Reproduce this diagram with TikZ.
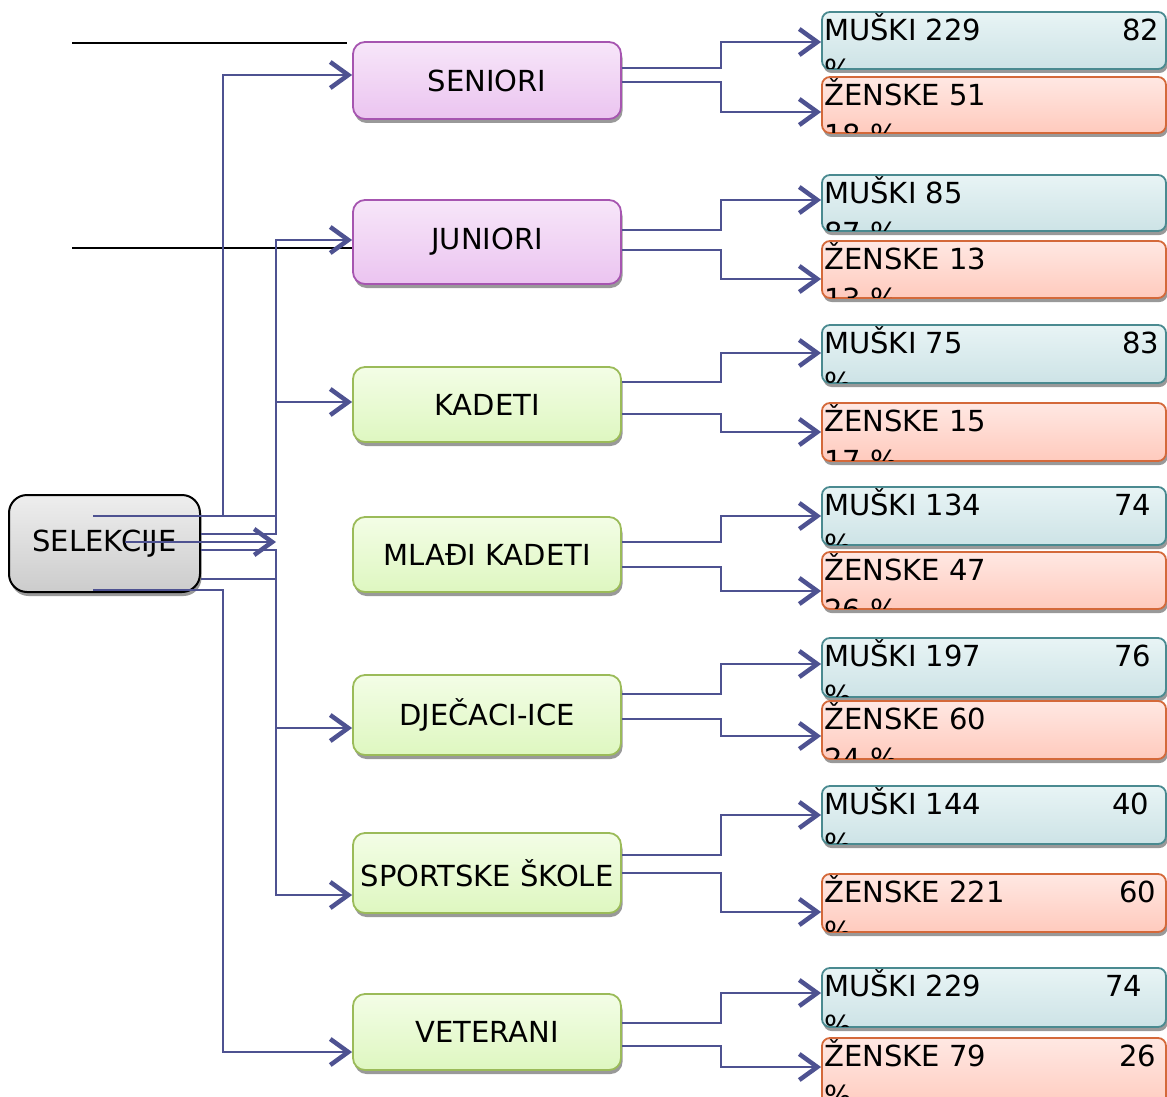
\documentclass[tikz,border=0pt]{standalone}
\usepackage{fontspec}
\setmainfont{DejaVu Sans}
\usetikzlibrary{arrows.meta,shadows,calc}
\definecolor{connc}{RGB}{78,82,145}
\definecolor{purpB}{RGB}{166,85,176}
\definecolor{purpT}{RGB}{247,230,249}
\definecolor{purpL}{RGB}{235,196,240}
\definecolor{grnB}{RGB}{155,187,89}
\definecolor{grnT}{RGB}{243,253,230}
\definecolor{grnL}{RGB}{222,247,192}
\definecolor{tealB}{RGB}{74,138,144}
\definecolor{tealT}{RGB}{232,244,245}
\definecolor{tealL}{RGB}{205,227,230}
\definecolor{orgB}{RGB}{212,105,58}
\definecolor{orgT}{RGB}{255,232,227}
\definecolor{orgL}{RGB}{255,202,189}
\definecolor{gryT}{RGB}{238,238,238}
\definecolor{gryL}{RGB}{204,204,204}
\tikzset{
  txt/.style={font=\fontsize{29}{34}\selectfont, inner sep=0pt, text=black},
  shd/.style={drop shadow={shadow xshift=1.5pt,shadow yshift=-4pt,fill=black!40,opacity=1}},
  midbase/.style={shd, line width=1.8pt, rounded corners=12pt, minimum width=268pt, inner sep=0pt, txt},
  midp/.style={midbase, draw=purpB, top color=purpT, bottom color=purpL},
  midg/.style={midbase, draw=grnB, top color=grnT, bottom color=grnL},
  rb/.style={shd, line width=1.8pt, rounded corners=8pt, minimum width=344pt, inner sep=0pt},
  mk/.style={rb, draw=tealB, top color=tealT, bottom color=tealL},
  zk/.style={rb, draw=orgB, top color=orgT, bottom color=orgL},
  selbox/.style={shd, draw=black, line width=2pt, rounded corners=18pt, top color=gryT, bottom color=gryL, minimum width=191pt, minimum height=97pt, inner sep=0pt, txt},
  conn/.style={draw=connc, line width=1.8pt},
  arrc/.style={-{Straight Barb[length=18pt,width=26pt,line width=4.5pt 0]}},
  blk/.style={draw=black, line width=2pt}
}
\newcommand\rbox[8]{%
  \node[#2, minimum height={#4-#3}] (#1) at (994,{(#3+#4)/2}) {};
  \begin{scope}
    \clip[rounded corners=7pt] ([shift={(1pt,-1pt)}]#1.north west) rectangle ([shift={(-1pt,1.2pt)}]#1.south east);
    \node[txt,anchor=base west] at ([shift={(3pt,-29pt)}]#1.north west) {#5};
    \node[txt,anchor=base west] at ([shift={(3pt,-69pt)}]#1.north west) {#8};
    \node[txt,anchor=base west] at ([shift={({(#6-822)*1pt},-29pt)}]#1.north west) {#7};
  \end{scope}}
\newcommand\pairconn[7]{%
  \draw[conn,arrc] (#1.east |- 0,#2) -| (721,#3) -- (#4.west |- 0,#3);
  \draw[conn,arrc] (#1.east |- 0,#5) -| (721,#6) -- (#7.west |- 0,#6);}
\begin{document}
\begin{tikzpicture}[x=1pt,y=-1pt]
\useasboundingbox (0,0) rectangle (1167,1097);
% left node
\node[selbox] (sel) at (104.5,543.5) {SELEKCIJE};
% middle nodes
\node[midp, minimum height=77] (sen) at (487,80.5) {SENIORI};
\node[midp, minimum height=84] (jun) at (487,242) {JUNIORI};
\node[midg, minimum height=75] (kad) at (487,404.5) {KADETI};
\node[midg, minimum height=75] (mla) at (487,554.5) {MLAĐI KADETI};
\node[midg, minimum height=80] (dje) at (487,715) {DJEČACI-ICE};
\node[midg, minimum height=80] (spo) at (487,873) {SPORTSKE ŠKOLE};
\node[midg, minimum height=76] (vet) at (487,1032) {VETERANI};
% right nodes
\rbox{m1}{mk}{12}{69}{MUŠKI 229}{1123}{82}{\%}
\rbox{z1}{zk}{77}{133}{ŽENSKE 51}{0}{}{18 \%}
\rbox{m2}{mk}{175}{231}{MUŠKI 85}{0}{}{87 \%}
\rbox{z2}{zk}{241}{298}{ŽENSKE 13}{0}{}{13 \%}
\rbox{m3}{mk}{325}{383}{MUŠKI 75}{1123}{83}{\%}
\rbox{z3}{zk}{403}{461}{ŽENSKE 15}{0}{}{17 \%}
\rbox{m4}{mk}{487}{545}{MUŠKI 134}{1115}{74}{\%}
\rbox{z4}{zk}{552}{609}{ŽENSKE 47}{0}{}{26 \%}
\rbox{m5}{mk}{638}{697}{MUŠKI 197}{1115}{76}{\%}
\rbox{z5}{zk}{701}{759}{ŽENSKE 60}{0}{}{24 \%}
\rbox{m6}{mk}{786}{844}{MUŠKI 144}{1113}{40}{\%}
\rbox{z6}{zk}{874}{932}{ŽENSKE 221}{1120}{60}{\%}
\rbox{m7}{mk}{968}{1027}{MUŠKI 229}{1106}{74}{\%}
\rbox{z7}{zk}{1038}{1112}{ŽENSKE 79}{1120}{26}{\%}
% black lines
\coordinate (k1) at (72,43);
\coordinate (k2) at (347,43);
\coordinate (k3) at (72,248);
\draw[blk] (k1) -- (k2);
\draw[blk] (k3) -- (jun.west |- 0,248);
% left connectors
\coordinate (s1) at (93,516);
\coordinate (s2) at (93,590);
\coordinate (s3) at (125,542);
\coordinate (mk0) at (276,542);
\draw[conn,arrc] (s1) -| (223,75) -- (sen.west |- 0,75);
\draw[conn,arrc] (s1) -| (276,240) -- (jun.west |- 0,240);
\draw[conn,arrc] (sel.east |- 0,534) -| (276,402) -- (kad.west |- 0,402);
\draw[conn,arrc] (s3) -- (mk0);
\draw[conn,arrc] (sel.east |- 0,550) -| (276,728) -- (dje.west |- 0,728);
\draw[conn,arrc] (sel.east |- 0,579) -| (276,895) -- (spo.west |- 0,895);
\draw[conn,arrc] (s2) -| (223,1052) -- (vet.west |- 0,1052);
% right connectors
\pairconn{sen}{68}{42}{m1}{82}{112}{z1}
\pairconn{jun}{230}{200}{m2}{250}{279}{z2}
\pairconn{kad}{382}{353}{m3}{414}{432}{z3}
\pairconn{mla}{542}{516}{m4}{567}{591}{z4}
\pairconn{dje}{694}{664}{m5}{719}{736}{z5}
\pairconn{spo}{855}{815}{m6}{873}{912}{z6}
\pairconn{vet}{1023}{993}{m7}{1046}{1067}{z7}
\end{tikzpicture}
\end{document}
